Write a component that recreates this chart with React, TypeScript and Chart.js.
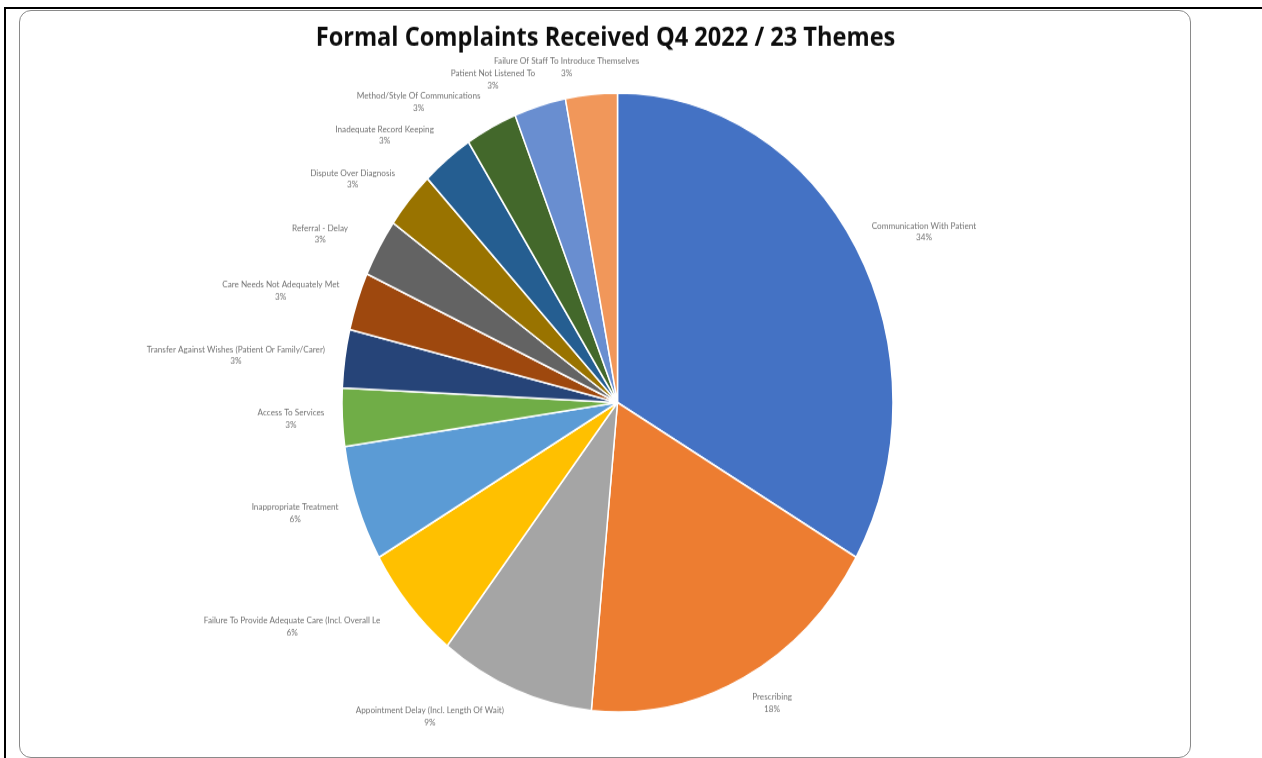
import React, { useEffect, useRef } from "react";
import { Chart, registerables } from "chart.js";

Chart.register(...registerables);

// ---- data ----
const chartTitle = "Formal Complaints Received Q4 2022 / 23 Themes";

const themes = [
  "Communication With Patient",
  "Prescribing",
  "Appointment Delay (Incl. Length Of Wait)",
  "Failure To Provide Adequate Care (Incl. Overall Le",
  "Inappropriate Treatment",
  "Access To Services",
  "Transfer Against Wishes (Patient Or Family/Carer)",
  "Care Needs Not Adequately Met",
  "Referral - Delay",
  "Dispute Over Diagnosis",
  "Inadequate Record Keeping",
  "Method/Style Of Communications",
  "Patient Not Listened To",
  "Failure Of Staff To Introduce Themselves",
];

const complaintCounts = [11, 6, 3, 2, 2, 1, 1, 1, 1, 1, 1, 1, 1, 1];

const percentLabels = [
  "34%", "18%", "9%", "6%", "6%", "3%", "3%", "3%", "3%", "3%", "3%", "3%", "3%", "3%",
];

const sliceColors = [
  "#4472C4", "#ED7D31", "#A5A5A5", "#FFC000", "#5B9BD5", "#70AD47", "#264478",
  "#9E480E", "#636363", "#997300", "#255E91", "#43682B", "#698ED0", "#F1975A",
];

// ---- label layout (not data) ----
const LABEL_FONT = "8.2px Lato";
const LABEL_COLOR = "#737373";
const LINE_H = 10.7;
const LABEL_GAP = 18;
const LABEL_NUDGE: [number, number][] = [
  [7, 0], [11, -3], [-51, -3], [-37, 0], [-4, -1], [0, 0], [-3, 1],
  [-4, 0], [-19, 2], [-11, 0], [-21, 1], [-36, 3], [-30, 4], [-16, 4],
];

const labelPlugin = {
  id: "sliceLabels",
  afterDatasetsDraw(chart: any) {
    const ctx = chart.ctx as CanvasRenderingContext2D;
    const meta = chart.getDatasetMeta(0);
    ctx.save();
    ctx.font = LABEL_FONT;
    ctx.fillStyle = LABEL_COLOR;
    ctx.textAlign = "center";
    ctx.textBaseline = "middle";
    meta.data.forEach((arc: any, i: number) => {
      const { x, y, startAngle, endAngle, outerRadius } = arc.getProps(
        ["x", "y", "startAngle", "endAngle", "outerRadius"],
        true
      );
      const mid = (startAngle + endAngle) / 2;
      const dx = Math.cos(mid);
      const dy = Math.sin(mid);
      const lines = [themes[i], percentLabels[i]];
      const w = Math.max(...lines.map((l) => ctx.measureText(l).width));
      const h = LINE_H * lines.length;
      const r = outerRadius + LABEL_GAP;
      const [nx, ny] = LABEL_NUDGE[i];
      const lx = x + dx * r + (dx * w) / 2 + nx;
      const ly = y + dy * r + (dy * h) / 2 + ny;
      lines.forEach((l, k) =>
        ctx.fillText(l, lx, ly + (k - (lines.length - 1) / 2) * LINE_H)
      );
    });
    ctx.font = "bold 23.6px 'Open Sans'";
    ctx.fillStyle = "#0d0d0d";
    ctx.textBaseline = "alphabetic";
    const cx = (chart.chartArea.left + chart.chartArea.right) / 2;
    ctx.fillText(chartTitle, cx - 12, 31);
    ctx.restore();
  },
};

export default function App() {
  const canvasRef = useRef<HTMLCanvasElement | null>(null);

  useEffect(() => {
    if (!canvasRef.current) return;
    const chart = new Chart(canvasRef.current, {
      type: "pie",
      data: {
        labels: themes,
        datasets: [
          {
            data: complaintCounts,
            backgroundColor: sliceColors,
            borderColor: "#ffffff",
            borderWidth: 1.5,
          },
        ],
      },
      options: {
        animation: false,
        responsive: false,
        radius: 275.5,
        layout: { padding: { left: 25, right: 0, top: 37, bottom: 0 } },
        plugins: {
          legend: { display: false },
          tooltip: { enabled: false },
          title: { display: false },
        },
      } as any,
      plugins: [labelPlugin],
    });
    return () => chart.destroy();
  }, []);

  return (
    <div style={{ background: "#fff" }}>
      <div style={{ position: "absolute", left: 4, top: 7, width: 1258, height: 2, background: "#000" }} />
      <div style={{ position: "absolute", left: 4, top: 7, width: 2, height: 760, background: "#000" }} />
      <div
        style={{
          position: "absolute",
          left: 19,
          top: 10,
          width: 1170,
          height: 746,
          border: "1.5px solid #8a8a8a",
          borderRadius: 12,
        }}
      />
      <div
        style={{
          position: "absolute",
          left: 20,
          top: 11,
          width: 1170,
          height: 660,
          transform: "scaleY(1.1234)",
          transformOrigin: "0 0",
        }}
      >
        <canvas ref={canvasRef} width={1170} height={660} style={{ display: "block" }} />
      </div>
    </div>
  );
}
